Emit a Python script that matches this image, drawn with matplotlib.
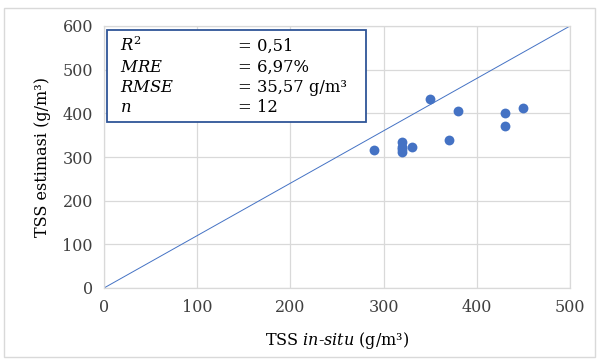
import matplotlib
matplotlib.use("Agg")
import matplotlib.pyplot as plt
from matplotlib.patches import Rectangle

plt.rcParams['font.family'] = ['DejaVu Serif']
plt.rcParams['mathtext.fontset'] = 'custom'
plt.rcParams['mathtext.rm'] = 'DejaVu Serif'
plt.rcParams['mathtext.it'] = 'DejaVu Serif:italic'

tss_insitu = [290, 320, 320, 320, 320, 330, 350, 370, 380, 430, 430, 450]
tss_estimasi = [316, 334, 324, 318, 311, 324, 432, 338, 405, 401, 370, 412]
ref_line_x = [0, 500]
ref_line_y = [0, 600]
x_ticks = [0, 100, 200, 300, 400, 500]
y_ticks = [0, 100, 200, 300, 400, 500, 600]
stat_names = [r"$\it{R}^2$", r"$\it{MRE}$", r"$\it{RMSE}$", r"$\it{n}$"]
stat_values = ["= 0,51", "= 6,97%", "= 35,57 g/m³", "= 12"]

fig = plt.figure(figsize=(5.99, 3.62), dpi=100)
fig.add_artist(Rectangle((4/599, 1-357/362), 591/599, 349/362, transform=fig.transFigure,
                         fill=False, edgecolor='#d9d9d9', linewidth=1))
ax = fig.add_axes([104/599, 1-288/362, 466/599, 262/362])

ax.plot(ref_line_x, ref_line_y, color='#4472c4', linewidth=0.7, zorder=2)
ax.scatter(tss_insitu, tss_estimasi, s=50, color='#4472c4', zorder=3, linewidths=0)

ax.set_xlim(0, 500)
ax.set_ylim(0, 600)
ax.set_xticks(x_ticks)
ax.set_yticks(y_ticks)
ax.grid(True, color='#d9d9d9', linewidth=0.9)
ax.set_axisbelow(True)
for s in ax.spines.values():
    s.set_color('#d9d9d9')
    s.set_linewidth(0.9)
ax.tick_params(length=0, labelsize=11.5, colors='#404040', pad=8)

ax.set_xlabel(r"TSS $\it{in}$-$\it{situ}$ (g/m³)", fontsize=11.5, labelpad=10)
ax.set_ylabel("TSS estimasi (g/m³)", fontsize=11.5, labelpad=8)

box_x0 = (107-104)/466
box_x1 = (366-104)/466
box_y0 = (288-122)/262
box_y1 = (288-30)/262
ax.add_patch(Rectangle((box_x0, box_y0), box_x1-box_x0, box_y1-box_y0, transform=ax.transAxes,
                       facecolor='white', edgecolor='#2f5597', linewidth=1.3, zorder=4))
row_y = [46, 67, 88, 108]
for name, val, py in zip(stat_names, stat_values, row_y):
    yy = (288-py)/262
    ax.text((120-104)/466, yy, name, transform=ax.transAxes, fontsize=11.8, va='center', ha='left', zorder=5)
    ax.text((238-104)/466, yy, val, transform=ax.transAxes, fontsize=11.8, va='center', ha='left', zorder=5)

fig.savefig("out.png", dpi=100)
